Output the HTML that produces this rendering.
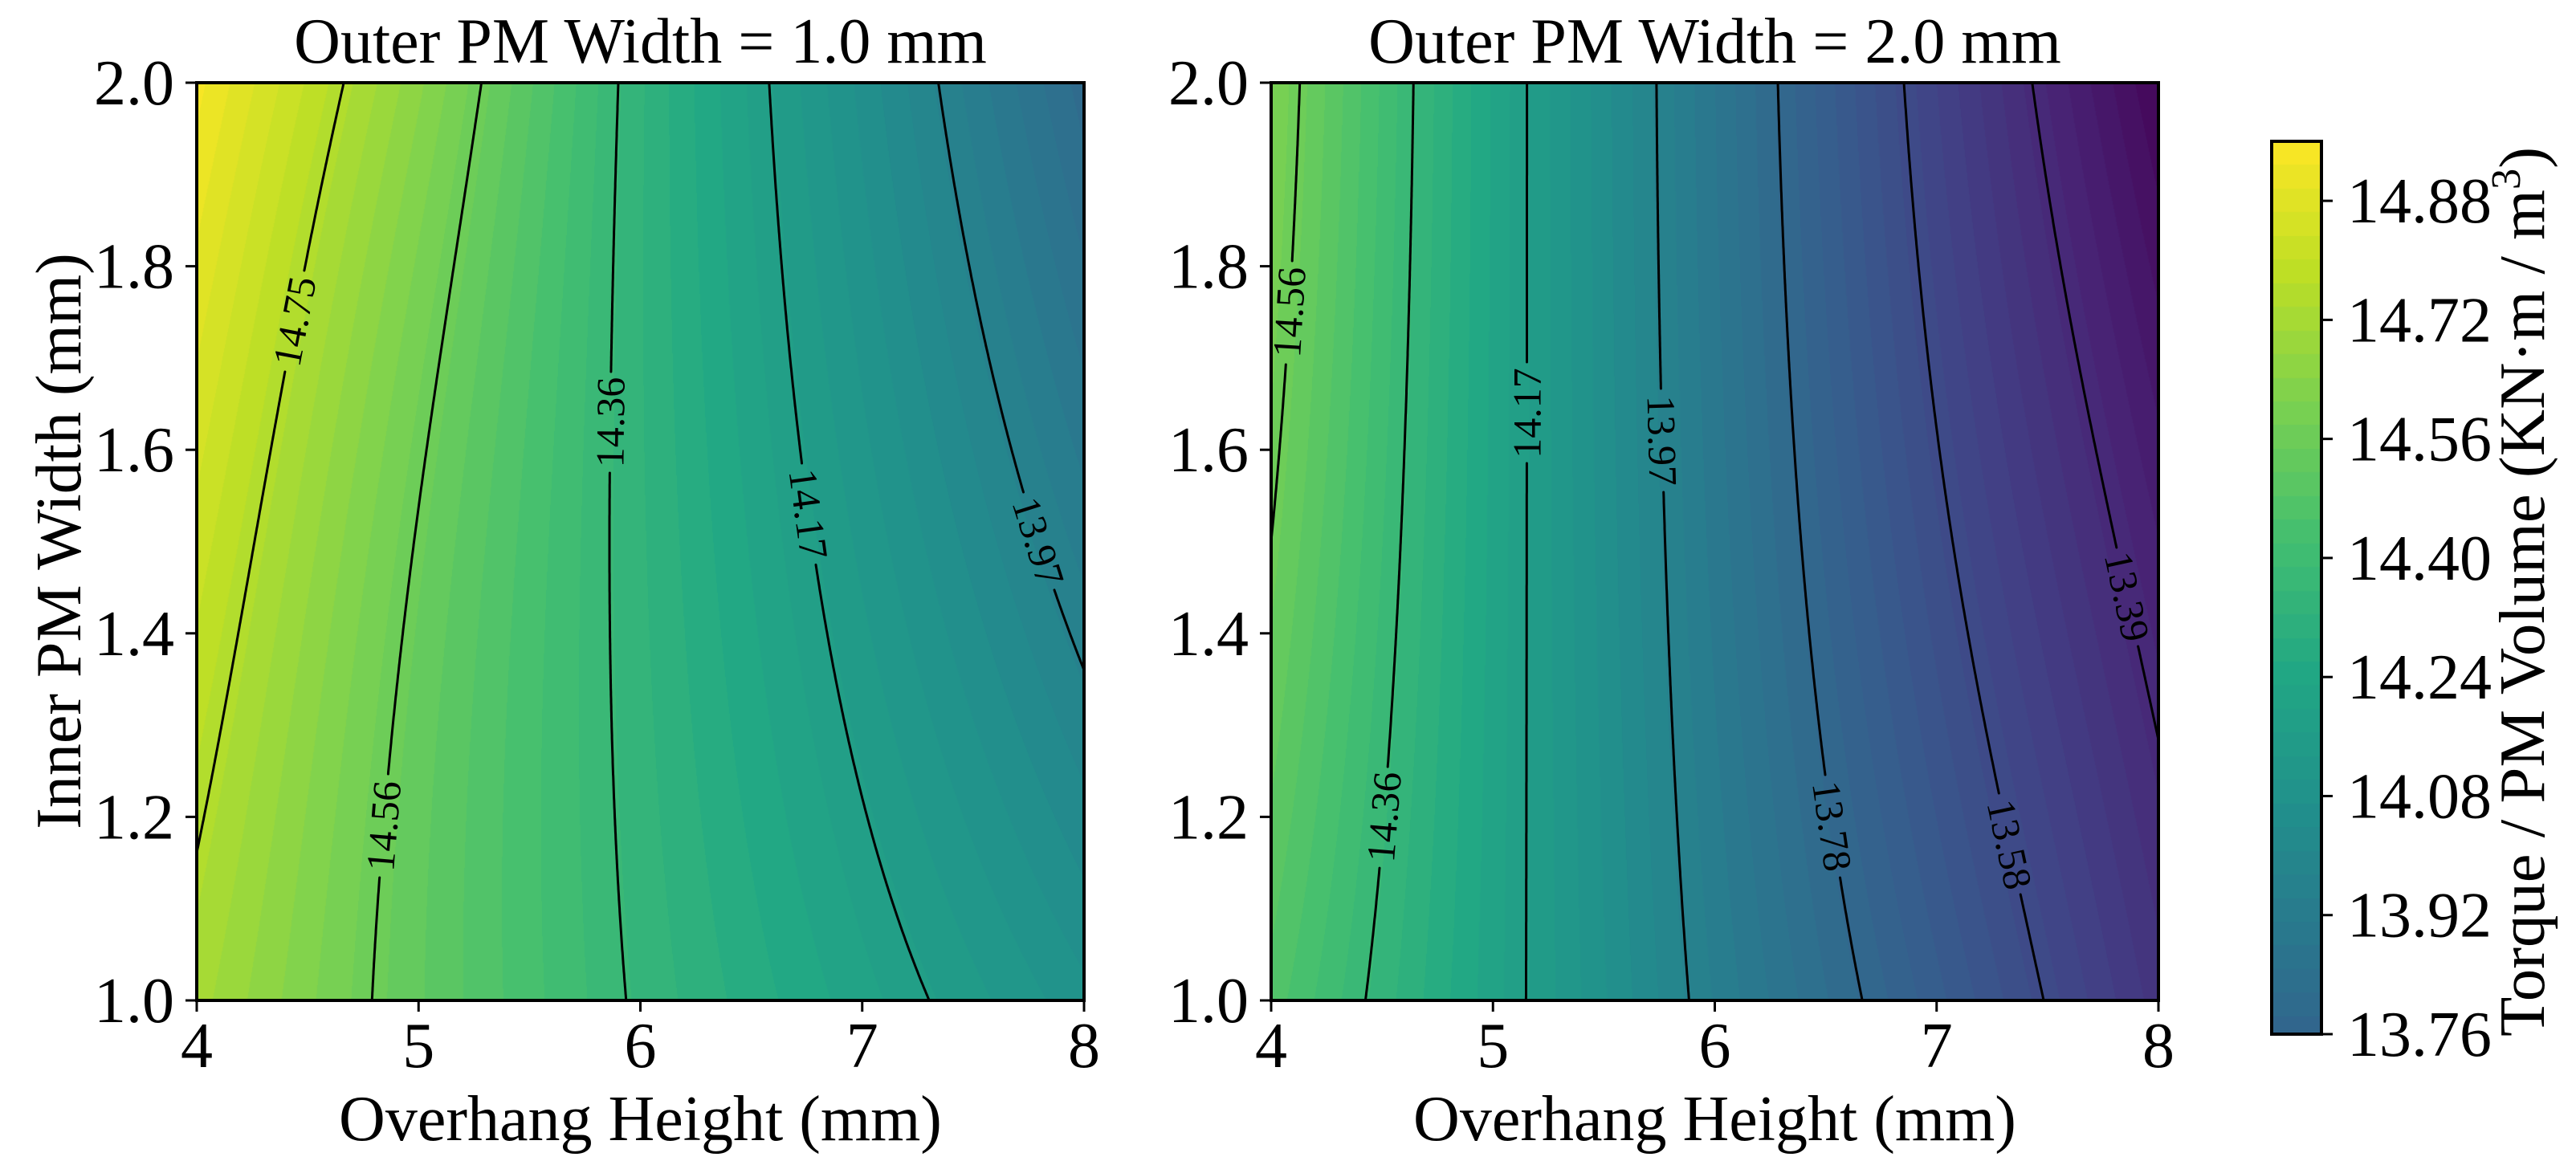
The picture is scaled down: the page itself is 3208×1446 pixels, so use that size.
<!DOCTYPE html>
<html><head><meta charset="utf-8">
<style>
html,body{margin:0;padding:0;background:#fff;}
#wrap{position:relative;width:3208px;height:1446px;overflow:hidden;font-family:"Liberation Serif","DejaVu Serif",serif;}
canvas{position:absolute;}
svg{position:absolute;left:0;top:0;font-family:"Liberation Serif","DejaVu Serif",serif;}
</style></head>
<body>
<div id="wrap">
<canvas id="c0" width="1105" height="1143" style="left:245px;top:103px"></canvas>
<canvas id="c1" width="1105" height="1143" style="left:1583px;top:103px"></canvas>
<canvas id="cb" width="62" height="1112" style="left:2829px;top:176px"></canvas>
<svg id="svg" width="3208" height="1446"></svg>
</div>
<script>
// ---- data ----
const xCols = [4, 5, 6, 7, 8];
const yRows = [1.0, 1.5, 2.0];
const leftZ = [
  [14.72, 14.52, 14.35, 14.21, 14.08],
  [14.82, 14.555, 14.33, 14.125, 13.93],
  [14.94, 14.65, 14.33, 14.06, 13.80]
];
const rightZ = [
  [14.47, 14.21, 13.94, 13.70, 13.45],
  [14.56, 14.22, 13.90, 13.60, 13.34],
  [14.61, 14.225, 13.88, 13.53, 13.21]
];
const panelTitles = ["Outer PM Width = 1.0 mm", "Outer PM Width = 2.0 mm"];
const lineLevels = [13.20, 13.39, 13.58, 13.78, 13.97, 14.17, 14.36, 14.56, 14.75, 14.95];
const leftLabelLevels = [14.75, 14.56, 14.36, 14.17, 13.97];
const leftLabelY = [1.74, 1.19, 1.63, 1.53, 1.50];
const rightLabelLevels = [14.56, 14.36, 14.17, 13.97, 13.78, 13.58, 13.39];
const rightLabelY = [1.75, 1.20, 1.64, 1.61, 1.19, 1.17, 1.44];
const xTicks = [4, 5, 6, 7, 8];
const yTicks = [1.0, 1.2, 1.4, 1.6, 1.8, 2.0];
const cbTicks = [13.76, 13.92, 14.08, 14.24, 14.40, 14.56, 14.72, 14.88];
const vMin = 13.18, vMax = 14.96, nBands = 56;
const cbMin = 13.76, cbMax = 14.96;

// ---- layout ----
const PW = 1105, PH = 1143, PT = 103;
const panelLeft = [245, 1583];
const CB = {x: 2829, y: 176, w: 62, h: 1112};

const vir = [[68,1,84],[72,36,117],[65,68,135],[53,95,141],[42,120,142],[33,145,140],[34,168,132],[68,191,112],[122,209,81],[189,223,38],[253,231,37]];
function viridis(t){t=Math.max(0,Math.min(1,t));const f=t*10,i=Math.min(9,Math.floor(f)),r=f-i;const a=vir[i],b=vir[i+1];return [a[0]+(b[0]-a[0])*r,a[1]+(b[1]-a[1])*r,a[2]+(b[2]-a[2])*r];}
const step=(vMax-vMin)/nBands;
function bandColor(z){let k=Math.floor((z-vMin)/step);k=Math.max(0,Math.min(nBands-1,k));return viridis((k+0.5)/nBands);}

function cr(p,x){
  const n=p.length;let u=(x-xCols[0])/(xCols[1]-xCols[0]);let i=Math.floor(u);if(i<0)i=0;if(i>n-2)i=n-2;const t=u-i;
  const p1=p[i],p2=p[i+1],p0=i>0?p[i-1]:2*p1-p2,p3=i+2<n?p[i+2]:2*p2-p1;
  return 0.5*((2*p1)+(-p0+p2)*t+(2*p0-5*p1+4*p2-p3)*t*t+(-p0+3*p1-3*p2+p3)*t*t*t);
}
function zf(Z,x,y){
  const a=cr(Z[0],x),b=cr(Z[1],x),c=cr(Z[2],x);
  const y0=yRows[0],y1=yRows[1],y2=yRows[2];
  return a*(y-y1)*(y-y2)/((y0-y1)*(y0-y2))+b*(y-y0)*(y-y2)/((y1-y0)*(y1-y2))+c*(y-y0)*(y-y1)/((y2-y0)*(y2-y1));
}
const sx=px=>4+4*px/PW, sy=py=>2-py/PH;
const xs=v=>(v-4)/4*PW, ys=v=>(2-v)*PH;

[leftZ,rightZ].forEach((Z,pi)=>{
  const ctx=document.getElementById('c'+pi).getContext('2d');
  const img=ctx.createImageData(PW,PH);
  for(let py=0;py<PH;py++){const y=sy(py+0.5);
    for(let px=0;px<PW;px++){const c=bandColor(zf(Z,sx(px+0.5),y));const o=(py*PW+px)*4;
      img.data[o]=c[0];img.data[o+1]=c[1];img.data[o+2]=c[2];img.data[o+3]=255;}}
  ctx.putImageData(img,0,0);
});
(function(){const ctx=document.getElementById('cb').getContext('2d');
  for(let py=0;py<CB.h;py++){const z=cbMax-(py+0.5)/CB.h*(cbMax-cbMin);const c=bandColor(z);
    ctx.fillStyle=`rgb(${c[0]|0},${c[1]|0},${c[2]|0})`;ctx.fillRect(0,py,CB.w,1);}})();

const NS='http://www.w3.org/2000/svg';const svg=document.getElementById('svg');
function el(tag,attrs,parent){const e=document.createElementNS(NS,tag);for(const k in attrs)e.setAttribute(k,attrs[k]);(parent||svg).appendChild(e);return e;}

[leftZ,rightZ].forEach((Z,pi)=>{
  const L=panelLeft[pi];
  const g=el('g',{transform:`translate(${L},${PT})`});
  
  
  const labLv=pi?rightLabelLevels:leftLabelLevels, labY=pi?rightLabelY:leftLabelY;
  const labels=labLv.map((lv,i)=>{
    const y=labY[i];let a=4,b=8;const fa=zf(Z,a,y)-lv;
    for(let k=0;k<50;k++){const m=(a+b)/2;const fm=zf(Z,m,y)-lv;if((fm>0)===(fa>0))a=m;else b=m;}
    const x=(a+b)/2;const px=xs(x),py=ys(y);const h=1;
    const gx=(zf(Z,sx(px+h),y)-zf(Z,sx(px-h),y))/(2*h);
    const gy=(zf(Z,x,sy(py+h))-zf(Z,x,sy(py-h)))/(2*h);
    let ang=Math.atan2(gx,-gy)*180/Math.PI;
    while(ang>90)ang-=180;while(ang<=-90)ang+=180;
    return {lv,px,py,ang};
  });
  const S=3,nx=Math.ceil(PW/S),ny=Math.ceil(PH/S);
  const grid=[];for(let j=0;j<=ny;j++){const r=[];for(let i=0;i<=nx;i++)r.push(zf(Z,sx(Math.min(i*S,PW)),sy(Math.min(j*S,PH))));grid.push(r);}
  lineLevels.forEach(lv=>{
    let d='';
    const myLabs=labels.filter(l=>Math.abs(l.lv-lv)<0.005);
    for(let j=0;j<ny;j++)for(let i=0;i<nx;i++){
      const x0=i*S,x1=Math.min((i+1)*S,PW),y0=j*S,y1=Math.min((j+1)*S,PH);
      const v=[grid[j][i],grid[j][i+1],grid[j+1][i+1],grid[j+1][i]];
      const P=[[x0,y0],[x1,y0],[x1,y1],[x0,y1]];
      const pts=[];
      for(let e=0;e<4;e++){const a=v[e]-lv,b=v[(e+1)%4]-lv;if((a<0)!==(b<0)){const t=a/(a-b);const p=P[e],q=P[(e+1)%4];pts.push([p[0]+(q[0]-p[0])*t,p[1]+(q[1]-p[1])*t]);}}
      if(pts.length===2){const mx=(pts[0][0]+pts[1][0])/2,my=(pts[0][1]+pts[1][1])/2;
        if(myLabs.some(l=>Math.hypot(mx-l.px,my-l.py)<64))continue;
        d+=`M${pts[0][0].toFixed(1)},${pts[0][1].toFixed(1)}L${pts[1][0].toFixed(1)},${pts[1][1].toFixed(1)}`;}
    }
    if(d){const p=el('path',{d,stroke:'#000','stroke-width':3,fill:'none','stroke-linecap':'round'},g);
      
      }
  });
  labels.forEach(l=>{
    const t=el('text',{x:l.px,y:l.py,'font-size':50,'text-anchor':'middle','dominant-baseline':'central',transform:`rotate(${l.ang.toFixed(1)} ${l.px.toFixed(1)} ${l.py.toFixed(1)})`},g);
    t.textContent=l.lv.toFixed(2);
    
    
  });
  const fr=el('rect',{x:0,y:0,width:PW,height:PH,fill:'none',stroke:'#000','stroke-width':4},g);
  
  
  xTicks.forEach(v=>{const x=xs(v);
    el('line',{x1:x,y1:PH,x2:x,y2:PH+14,stroke:'#000','stroke-width':3},g);
    const t=el('text',{x:x,y:PH+83,'font-size':80,'text-anchor':'middle'},g);t.textContent=String(v);
    
    });
  yTicks.forEach(v=>{const y=ys(v);
    el('line',{x1:-14,y1:y,x2:0,y2:y,stroke:'#000','stroke-width':3},g);
    const t=el('text',{x:-28,y:y+27,'font-size':80,'text-anchor':'end'},g);t.textContent=v.toFixed(1);
    
    });
  const tt=el('text',{x:PW/2,y:-25,'font-size':80,'text-anchor':'middle'},g);tt.textContent=panelTitles[pi];
  
  
  const xl=el('text',{x:PW/2,y:PH+174,'font-size':80,'text-anchor':'middle'},g);xl.textContent='Overhang Height (mm)';
  
  
});
const yl=el('text',{x:0,y:0,'font-size':80,'text-anchor':'middle',transform:'translate(100,674) rotate(-90)'});
yl.textContent='Inner PM Width (mm)';



const cbf=el('rect',{x:CB.x,y:CB.y,width:CB.w,height:CB.h,fill:'none',stroke:'#000','stroke-width':4});


cbTicks.forEach(v=>{const y=CB.y+CB.h-(v-cbMin)/(cbMax-cbMin)*CB.h;
  el('line',{x1:CB.x+CB.w,y1:y,x2:CB.x+CB.w+14,y2:y,stroke:'#000','stroke-width':3});
  const t=el('text',{x:CB.x+CB.w+32,y:y+27,'font-size':80});t.textContent=v.toFixed(2);
  
  });
const cl=el('text',{x:0,y:0,'font-size':80,'text-anchor':'middle',transform:'translate(3168,737) rotate(-90)',textLength:1108,lengthAdjust:'spacingAndGlyphs'});
cl.innerHTML='Torque / PM Volume (KN·m / m<tspan font-size="52" dy="-30">3</tspan><tspan dy="30">)</tspan>';


</script>
</body></html>
